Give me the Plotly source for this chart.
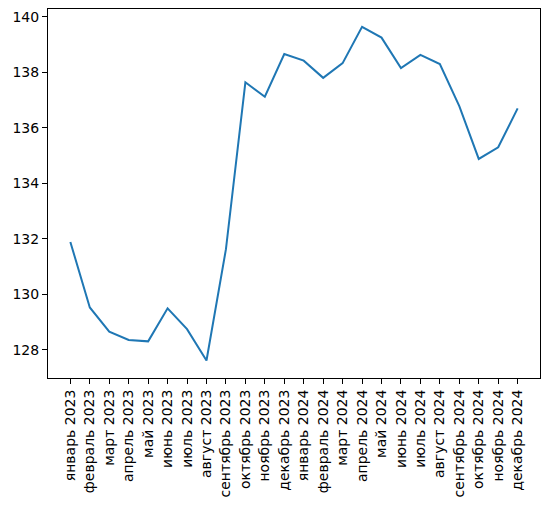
import plotly.graph_objects as go

months = ["январь", "февраль", "март", "апрель", "май", "июнь",
          "июль", "август", "сентябрь", "октябрь", "ноябрь", "декабрь"]
labels = [f"{m} {y}" for y in (2023, 2024) for m in months]

values = [131.89, 129.53, 128.66, 128.36, 128.31, 129.50,
          128.75, 127.62, 131.63, 137.64, 137.12, 138.66,
          138.42, 137.80, 138.33, 139.64, 139.25, 138.15,
          138.63, 138.30, 136.78, 134.88, 135.30, 136.70]

y_ticks = [128, 130, 132, 134, 136, 138, 140]

fig = go.Figure()
fig.add_trace(go.Scatter(x=list(range(len(labels))), y=values, mode="lines",
                         line=dict(color="#1f77b4", width=2), showlegend=False))

axis_style = dict(showline=True, linecolor="black", linewidth=1, mirror=True,
                  ticks="outside", ticklen=5, tickcolor="black", showgrid=False,
                  zeroline=False, automargin=False,
                  tickfont=dict(family="DejaVu Sans", size=14, color="black"))

fig.update_xaxes(tickvals=list(range(len(labels))), ticktext=labels, tickangle=-90,
                 range=[-1.15, 24.15], **axis_style)
fig.update_yaxes(tickvals=y_ticks, range=[126.99, 140.28], **axis_style)

# page body has an 8px margin, so the plot box is shifted back by that much
fig.update_layout(plot_bgcolor="white", paper_bgcolor="white",
                  margin=dict(l=40, r=4, t=1, b=120),
                  font=dict(family="DejaVu Sans"))

fig.write_html("out.html")
